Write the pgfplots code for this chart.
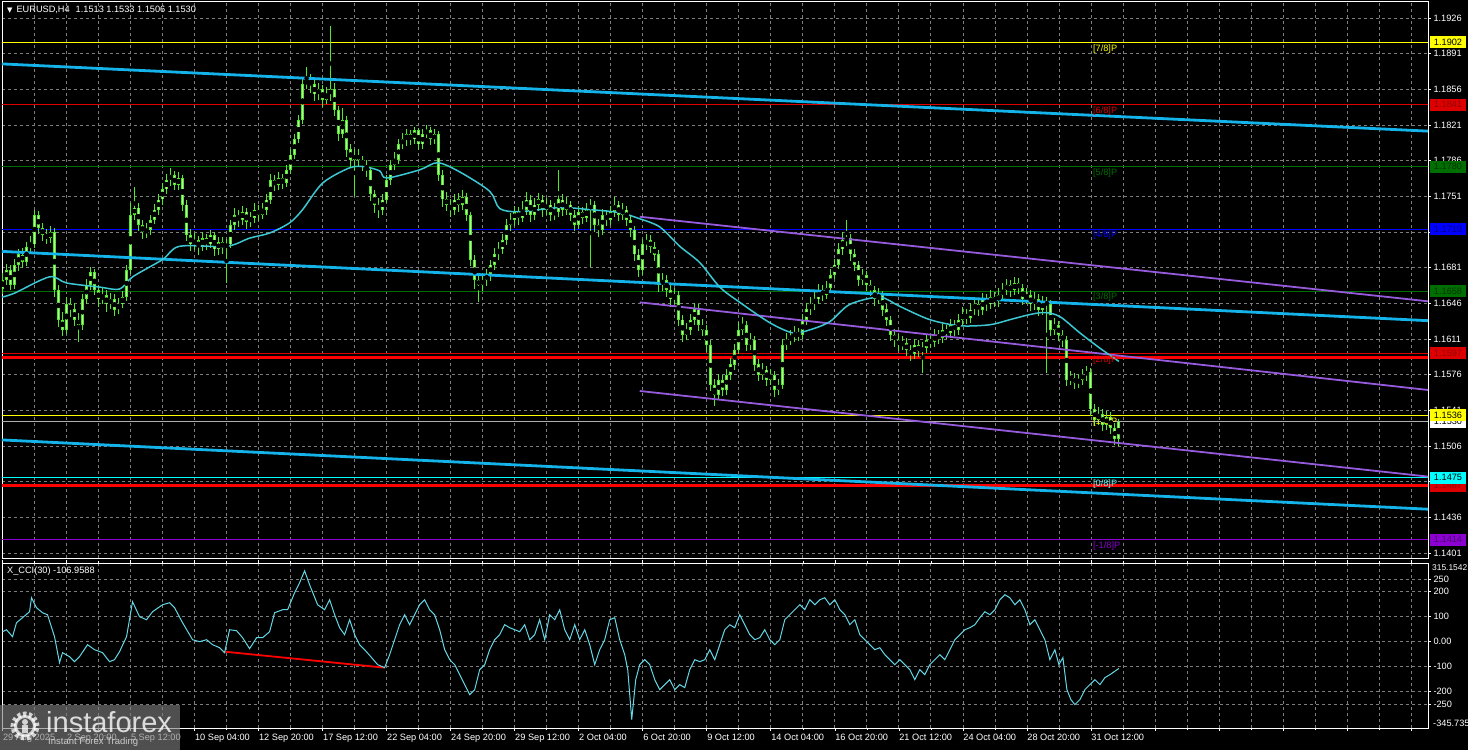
\documentclass[border=0pt]{standalone}
\usepackage{pgfplots}
\pgfplotsset{compat=1.18}
\usepackage{pgfplotstable}
\usepackage{fontspec}
\setmainfont{Liberation Sans}
\newfontfamily\djv{DejaVu Sans}
\definecolor{cgrid}{RGB}{125,125,125}
\definecolor{candle}{RGB}{80,235,40}
\definecolor{candlein}{RGB}{185,250,160}
\definecolor{tcyan}{RGB}{20,180,235}
\definecolor{tpurple}{RGB}{150,90,220}
\definecolor{cma}{RGB}{60,200,210}
\definecolor{ccci}{RGB}{100,215,230}
\definecolor{mmyellow}{RGB}{255,255,0}
\definecolor{mmred}{RGB}{220,0,0}
\definecolor{mmgreen}{RGB}{0,110,0}
\definecolor{mmblue}{RGB}{0,0,255}
\definecolor{mmcyan}{RGB}{0,255,255}
\definecolor{mmpurple}{RGB}{140,0,210}
\definecolor{tred}{RGB}{150,0,0}
\definecolor{tgreen}{RGB}{0,55,0}
\definecolor{tblue}{RGB}{0,0,130}
\definecolor{tpurp}{RGB}{70,0,110}
\definecolor{curprice}{RGB}{175,175,175}

\pgfplotstableread{
i o h l c
0 1.1660 1.1676 1.1655 1.1669
1 1.1669 1.1685 1.1664 1.1679
2 1.1679 1.1684 1.1659 1.1664
3 1.1664 1.1690 1.1660 1.1684
4 1.1684 1.1699 1.1678 1.1694
5 1.1694 1.1700 1.1681 1.1687
6 1.1687 1.1706 1.1683 1.1701
7 1.1701 1.1712 1.1696 1.1704
8 1.1704 1.1738 1.1700 1.1733
9 1.1733 1.1737 1.1714 1.1720
10 1.1720 1.1725 1.1707 1.1713
11 1.1713 1.1719 1.1704 1.1710
12 1.1710 1.1722 1.1705 1.1716
13 1.1716 1.1720 1.1652 1.1659
14 1.1659 1.1664 1.1623 1.1630
15 1.1630 1.1638 1.1614 1.1620
16 1.1620 1.1652 1.1616 1.1645
17 1.1645 1.1651 1.1633 1.1640
18 1.1640 1.1646 1.1624 1.1630
19 1.1630 1.1637 1.1608 1.1625
20 1.1625 1.1655 1.1620 1.1650
21 1.1650 1.1670 1.1645 1.1664
22 1.1664 1.1682 1.1659 1.1677
23 1.1677 1.1680 1.1654 1.1659
24 1.1659 1.1664 1.1643 1.1650
25 1.1650 1.1661 1.1645 1.1654
26 1.1654 1.1659 1.1638 1.1645
27 1.1645 1.1656 1.1640 1.1650
28 1.1650 1.1655 1.1634 1.1640
29 1.1640 1.1651 1.1636 1.1645
30 1.1645 1.1658 1.1641 1.1652
31 1.1652 1.1684 1.1648 1.1679
32 1.1679 1.1745 1.1675 1.1733
33 1.1733 1.1760 1.1728 1.1740
34 1.1740 1.1744 1.1717 1.1723
35 1.1723 1.1728 1.1709 1.1716
36 1.1716 1.1725 1.1710 1.1718
37 1.1718 1.1733 1.1713 1.1728
38 1.1728 1.1744 1.1724 1.1738
39 1.1738 1.1753 1.1733 1.1748
40 1.1748 1.1764 1.1743 1.1758
41 1.1758 1.1773 1.1753 1.1767
42 1.1767 1.1779 1.1761 1.1772
43 1.1772 1.1776 1.1757 1.1762
44 1.1762 1.1775 1.1757 1.1769
45 1.1769 1.1772 1.1737 1.1743
46 1.1743 1.1747 1.1707 1.1713
47 1.1713 1.1719 1.1697 1.1704
48 1.1704 1.1715 1.1698 1.1708
49 1.1708 1.1712 1.1694 1.1701
50 1.1701 1.1716 1.1697 1.1710
51 1.1710 1.1714 1.1698 1.1704
52 1.1704 1.1718 1.1700 1.1713
53 1.1713 1.1716 1.1693 1.1699
54 1.1699 1.1711 1.1694 1.1706
55 1.1706 1.1711 1.1695 1.1701
56 1.1701 1.1709 1.1666 1.1704
57 1.1704 1.1728 1.1700 1.1723
58 1.1723 1.1740 1.1718 1.1733
59 1.1733 1.1738 1.1721 1.1728
60 1.1728 1.1742 1.1723 1.1736
61 1.1736 1.1740 1.1719 1.1726
62 1.1726 1.1736 1.1721 1.1730
63 1.1730 1.1744 1.1725 1.1738
64 1.1738 1.1743 1.1727 1.1733
65 1.1733 1.1745 1.1729 1.1738
66 1.1738 1.1753 1.1733 1.1748
67 1.1748 1.1773 1.1744 1.1767
68 1.1767 1.1772 1.1756 1.1762
69 1.1762 1.1775 1.1757 1.1769
70 1.1769 1.1773 1.1758 1.1764
71 1.1764 1.1782 1.1760 1.1777
72 1.1777 1.1797 1.1773 1.1792
73 1.1792 1.1812 1.1788 1.1807
74 1.1807 1.1831 1.1803 1.1826
75 1.1826 1.1868 1.1822 1.1861
76 1.1861 1.1878 1.1856 1.1865
77 1.1865 1.1871 1.1853 1.1861
78 1.1861 1.1866 1.1845 1.1851
79 1.1851 1.1862 1.1846 1.1856
80 1.1856 1.1860 1.1839 1.1846
81 1.1846 1.1858 1.1842 1.1851
82 1.1851 1.1918 1.1845 1.1856
83 1.1856 1.1862 1.1830 1.1836
84 1.1836 1.1840 1.1805 1.1812
85 1.1812 1.1838 1.1808 1.1826
86 1.1826 1.1830 1.1790 1.1797
87 1.1797 1.1802 1.1780 1.1787
88 1.1787 1.1797 1.1751 1.1792
89 1.1792 1.1798 1.1781 1.1787
90 1.1787 1.1791 1.1776 1.1782
91 1.1782 1.1787 1.1770 1.1777
92 1.1777 1.1780 1.1746 1.1753
93 1.1753 1.1757 1.1735 1.1743
94 1.1743 1.1749 1.1730 1.1738
95 1.1738 1.1753 1.1733 1.1748
96 1.1748 1.1772 1.1744 1.1767
97 1.1767 1.1787 1.1762 1.1782
98 1.1782 1.1795 1.1777 1.1787
99 1.1787 1.1807 1.1783 1.1802
100 1.1802 1.1813 1.1797 1.1807
101 1.1807 1.1817 1.1800 1.1812
102 1.1812 1.1816 1.1801 1.1807
103 1.1807 1.1819 1.1802 1.1816
104 1.1816 1.1818 1.1796 1.1802
105 1.1802 1.1817 1.1797 1.1812
106 1.1812 1.1821 1.1808 1.1816
107 1.1816 1.1819 1.1801 1.1807
108 1.1807 1.1817 1.1802 1.1812
109 1.1812 1.1815 1.1766 1.1772
110 1.1772 1.1777 1.1741 1.1748
111 1.1748 1.1755 1.1737 1.1743
112 1.1743 1.1748 1.1731 1.1738
113 1.1738 1.1753 1.1733 1.1748
114 1.1748 1.1754 1.1736 1.1743
115 1.1743 1.1757 1.1738 1.1750
116 1.1750 1.1754 1.1727 1.1733
117 1.1733 1.1736 1.1683 1.1689
118 1.1689 1.1693 1.1660 1.1669
119 1.1669 1.1675 1.1647 1.1664
120 1.1664 1.1676 1.1658 1.1669
121 1.1669 1.1680 1.1663 1.1674
122 1.1674 1.1689 1.1668 1.1684
123 1.1684 1.1700 1.1679 1.1694
124 1.1694 1.1706 1.1689 1.1699
125 1.1699 1.1714 1.1694 1.1708
126 1.1708 1.1729 1.1703 1.1723
127 1.1723 1.1735 1.1717 1.1728
128 1.1728 1.1742 1.1722 1.1736
129 1.1736 1.1741 1.1723 1.1730
130 1.1730 1.1746 1.1726 1.1738
131 1.1738 1.1755 1.1733 1.1748
132 1.1748 1.1752 1.1726 1.1733
133 1.1733 1.1749 1.1728 1.1743
134 1.1743 1.1754 1.1737 1.1748
135 1.1748 1.1752 1.1731 1.1738
136 1.1738 1.1749 1.1733 1.1743
137 1.1743 1.1748 1.1727 1.1733
138 1.1733 1.1744 1.1728 1.1736
139 1.1736 1.1777 1.1731 1.1748
140 1.1748 1.1753 1.1732 1.1738
141 1.1738 1.1750 1.1733 1.1743
142 1.1743 1.1747 1.1727 1.1733
143 1.1733 1.1738 1.1717 1.1723
144 1.1723 1.1742 1.1719 1.1736
145 1.1736 1.1741 1.1724 1.1730
146 1.1730 1.1744 1.1726 1.1738
147 1.1738 1.1748 1.1682 1.1743
148 1.1743 1.1747 1.1716 1.1723
149 1.1723 1.1729 1.1711 1.1718
150 1.1718 1.1739 1.1713 1.1733
151 1.1733 1.1738 1.1722 1.1728
152 1.1728 1.1742 1.1723 1.1736
153 1.1736 1.1750 1.1731 1.1743
154 1.1743 1.1747 1.1727 1.1733
155 1.1733 1.1744 1.1728 1.1738
156 1.1738 1.1742 1.1722 1.1728
157 1.1728 1.1733 1.1711 1.1718
158 1.1718 1.1722 1.1688 1.1694
159 1.1694 1.1699 1.1672 1.1679
160 1.1679 1.1709 1.1674 1.1704
161 1.1704 1.1714 1.1698 1.1708
162 1.1708 1.1713 1.1695 1.1701
163 1.1701 1.1706 1.1688 1.1694
164 1.1694 1.1698 1.1657 1.1664
165 1.1664 1.1676 1.1658 1.1669
166 1.1669 1.1674 1.1652 1.1659
167 1.1659 1.1664 1.1643 1.1650
168 1.1650 1.1661 1.1645 1.1654
169 1.1654 1.1658 1.1624 1.1630
170 1.1630 1.1635 1.1608 1.1615
171 1.1615 1.1627 1.1610 1.1620
172 1.1620 1.1636 1.1615 1.1630
173 1.1630 1.1646 1.1625 1.1640
174 1.1640 1.1645 1.1619 1.1625
175 1.1625 1.1631 1.1614 1.1620
176 1.1620 1.1625 1.1598 1.1605
177 1.1605 1.1610 1.1560 1.1566
178 1.1566 1.1572 1.1545 1.1556
179 1.1556 1.1577 1.1551 1.1571
180 1.1571 1.1576 1.1555 1.1561
181 1.1561 1.1582 1.1556 1.1576
182 1.1576 1.1592 1.1571 1.1586
183 1.1586 1.1606 1.1581 1.1600
184 1.1600 1.1628 1.1596 1.1620
185 1.1620 1.1633 1.1615 1.1625
186 1.1625 1.1629 1.1599 1.1605
187 1.1605 1.1617 1.1600 1.1610
188 1.1610 1.1614 1.1580 1.1586
189 1.1586 1.1591 1.1570 1.1576
190 1.1576 1.1587 1.1571 1.1581
191 1.1581 1.1585 1.1565 1.1571
192 1.1571 1.1582 1.1566 1.1576
193 1.1576 1.1580 1.1554 1.1561
194 1.1561 1.1572 1.1556 1.1566
195 1.1566 1.1611 1.1562 1.1605
196 1.1605 1.1617 1.1600 1.1610
197 1.1610 1.1620 1.1605 1.1613
198 1.1613 1.1624 1.1608 1.1617
199 1.1617 1.1622 1.1609 1.1615
200 1.1615 1.1636 1.1611 1.1630
201 1.1630 1.1646 1.1625 1.1640
202 1.1640 1.1652 1.1635 1.1645
203 1.1645 1.1657 1.1640 1.1650
204 1.1650 1.1665 1.1645 1.1659
205 1.1659 1.1664 1.1648 1.1654
206 1.1654 1.1668 1.1650 1.1661
207 1.1661 1.1680 1.1657 1.1674
208 1.1674 1.1690 1.1670 1.1684
209 1.1684 1.1705 1.1680 1.1699
210 1.1699 1.1716 1.1694 1.1708
211 1.1708 1.1728 1.1702 1.1710
212 1.1710 1.1714 1.1688 1.1694
213 1.1694 1.1699 1.1678 1.1684
214 1.1684 1.1688 1.1663 1.1669
215 1.1669 1.1680 1.1664 1.1674
216 1.1674 1.1678 1.1658 1.1664
217 1.1664 1.1669 1.1653 1.1659
218 1.1659 1.1663 1.1643 1.1650
219 1.1650 1.1661 1.1645 1.1654
220 1.1654 1.1658 1.1634 1.1640
221 1.1640 1.1645 1.1624 1.1630
222 1.1630 1.1634 1.1609 1.1615
223 1.1615 1.1621 1.1603 1.1610
224 1.1610 1.1616 1.1599 1.1605
225 1.1605 1.1614 1.1600 1.1607
226 1.1607 1.1612 1.1594 1.1600
227 1.1600 1.1605 1.1589 1.1596
228 1.1596 1.1611 1.1591 1.1605
229 1.1605 1.1610 1.1593 1.1599
230 1.1599 1.1608 1.1578 1.1602
231 1.1602 1.1616 1.1597 1.1610
232 1.1610 1.1615 1.1602 1.1608
233 1.1608 1.1621 1.1603 1.1615
234 1.1615 1.1620 1.1606 1.1612
235 1.1612 1.1626 1.1607 1.1620
236 1.1620 1.1625 1.1611 1.1617
237 1.1617 1.1631 1.1612 1.1625
238 1.1625 1.1630 1.1614 1.1620
239 1.1620 1.1636 1.1615 1.1630
240 1.1630 1.1642 1.1625 1.1635
241 1.1635 1.1640 1.1626 1.1632
242 1.1632 1.1646 1.1627 1.1640
243 1.1640 1.1652 1.1635 1.1645
244 1.1645 1.1650 1.1634 1.1640
245 1.1640 1.1656 1.1635 1.1650
246 1.1650 1.1655 1.1639 1.1645
247 1.1645 1.1659 1.1640 1.1652
248 1.1652 1.1657 1.1642 1.1648
249 1.1648 1.1661 1.1643 1.1654
250 1.1654 1.1666 1.1649 1.1659
251 1.1659 1.1670 1.1654 1.1664
252 1.1664 1.1669 1.1652 1.1659
253 1.1659 1.1672 1.1654 1.1666
254 1.1666 1.1671 1.1655 1.1661
255 1.1661 1.1665 1.1644 1.1650
256 1.1650 1.1661 1.1645 1.1654
257 1.1654 1.1659 1.1639 1.1645
258 1.1645 1.1657 1.1640 1.1650
259 1.1650 1.1655 1.1634 1.1640
260 1.1640 1.1653 1.1635 1.1647
261 1.1647 1.1652 1.1578 1.1645
262 1.1645 1.1649 1.1614 1.1620
263 1.1620 1.1632 1.1615 1.1625
264 1.1625 1.1629 1.1609 1.1615
265 1.1615 1.1620 1.1603 1.1610
266 1.1610 1.1614 1.1565 1.1571
267 1.1571 1.1580 1.1566 1.1573
268 1.1573 1.1578 1.1562 1.1568
269 1.1568 1.1577 1.1563 1.1571
270 1.1571 1.1582 1.1566 1.1576
271 1.1576 1.1585 1.1570 1.1579
272 1.1579 1.1583 1.1536 1.1542
273 1.1542 1.1547 1.1526 1.1532
274 1.1532 1.1544 1.1527 1.1537
275 1.1537 1.1542 1.1521 1.1527
276 1.1527 1.1540 1.1522 1.1534
277 1.1534 1.1539 1.1518 1.1524
278 1.1524 1.1529 1.1507 1.1513
279 1.1513 1.1533 1.1506 1.1530
}\candles

\pgfplotsset{
  mtbase/.style={
    scale only axis, width=1426pt,
    xmin=-0.125, xmax=356.25,
    axis line style={white, line width=0.8pt},
    tick style={white, line width=0.6pt},
    tick align=outside, major tick length=3pt, minor tick length=2pt,
    ytick pos=right, yticklabel pos=right,
    every tick label/.append style={font=\fontsize{9.2}{10}\selectfont, text=white},
    y tick label style={anchor=west, xshift=-1pt},
    major grid style={cgrid, dash pattern=on 3pt off 3pt, line width=0.7pt},
    minor grid style={cgrid, dash pattern=on 3pt off 3pt, line width=0.7pt},
  },
}
\tikzset{
  lvl/.style={anchor=west, xshift=1.8pt, minimum width=36pt, minimum height=12pt, inner sep=0pt, font=\fontsize{9.2}{10}\selectfont},
  mm/.style={anchor=north west, inner sep=0pt, yshift=-2pt, font=\fontsize{9.2}{10}\selectfont},
}

\begin{document}
\begin{tikzpicture}
\useasboundingbox (0pt,0pt) rectangle (1468pt,-750pt);
\fill[black] (0pt,0pt) rectangle (1468pt,-750pt);

% ---------------- main price panel ----------------
\begin{axis}[mtbase, at={(2pt,-1pt)}, anchor=north west, height=557pt,
  ymin=1.13961, ymax=1.19427,
  xtick={0,8,...,352}, xticklabels={}, x tick style={draw=none},
  ytick={1.1401,1.1436,1.1471,1.1506,1.1541,1.1576,1.1611,1.1646,1.1681,1.1716,1.1751,1.1786,1.1821,1.1856,1.1891,1.1926},
  yticklabels={1.1401,1.1436,,1.1506,1.1541,1.1576,1.1611,1.1646,1.1681,,1.1751,1.1786,1.1821,1.1856,1.1891,1.1926},
  grid=major]

% Murrey levels
\addplot[mmyellow, line width=0.9pt] coordinates {(-1,1.1902) (360,1.1902)};
\addplot[mmred, line width=0.9pt] coordinates {(-1,1.1841) (360,1.1841)};
\addplot[mmgreen, line width=0.9pt] coordinates {(-1,1.1780) (360,1.1780)};
\addplot[mmblue, line width=0.9pt] coordinates {(-1,1.1719) (360,1.1719)};
\addplot[mmgreen, line width=0.9pt] coordinates {(-1,1.1658) (360,1.1658)};
\addplot[mmred, line width=0.9pt] coordinates {(-1,1.1597) (360,1.1597)};
\addplot[mmyellow, line width=0.9pt] coordinates {(-1,1.1536) (360,1.1536)};
\addplot[curprice, line width=0.8pt] coordinates {(-1,1.1530) (360,1.1530)};
\addplot[mmcyan, line width=0.9pt] coordinates {(-1,1.1475) (360,1.1475)};
\addplot[mmpurple, line width=0.9pt] coordinates {(-1,1.1414) (360,1.1414)};
\addplot[red, line width=3pt] coordinates {(-1,1.1593) (360,1.1593)};
\addplot[red, line width=3pt] coordinates {(-1,1.1467) (360,1.1467)};

% candles: wicks
\addplot[only marks, mark=none, error bars/.cd, y dir=both, y explicit,
  error mark=none, error bar style={draw=candle, line width=1pt}]
  table[x=i, y expr=(\thisrow{h}+\thisrow{l})/2, y error expr=(\thisrow{h}-\thisrow{l})/2]{\candles};
% candles: bodies (outline)
\addplot[only marks, mark=none, error bars/.cd, y dir=both, y explicit,
  error mark=none, error bar style={draw=candle, line width=3pt}]
  table[x=i, y expr=(\thisrow{o}+\thisrow{c})/2, y error expr=abs(\thisrow{o}-\thisrow{c})/2]{\candles};
% candles: bodies (pale interior)
\addplot[only marks, mark=none, error bars/.cd, y dir=both, y explicit,
  error mark=none, error bar style={draw=candlein, line width=1pt}]
  table[x=i, y expr=(\thisrow{o}+\thisrow{c})/2, y error expr=abs(\thisrow{o}-\thisrow{c})/2-0.00008]{\candles};

% regression channel (cyan)
\addplot[tcyan, line width=2.8pt] coordinates {(-0.25,1.1881) (356.25,1.1815)};
\addplot[tcyan, line width=2.8pt] coordinates {(-0.25,1.1697) (356.25,1.1629)};
\addplot[tcyan, line width=2.8pt] coordinates {(-0.25,1.1512) (356.25,1.1444)};
% purple channel
\addplot[tpurple, line width=1.8pt] coordinates {(159.25,1.1731) (356.25,1.1648)};
\addplot[tpurple, line width=1.8pt] coordinates {(159.25,1.1647) (356.25,1.1561)};
\addplot[tpurple, line width=1.8pt] coordinates {(159.25,1.1560) (356.25,1.1476)};

% moving average
\addplot[cma, line width=1.5pt, smooth] coordinates {
(-0.25,1.1652) (3,1.1656) (11.75,1.1672) (16,1.1666) (24.25,1.1662) (29.25,1.1660)
(32.5,1.1672) (40,1.1689) (44.25,1.1702) (56,1.1702) (61.75,1.1710) (66.75,1.1715)
(71.75,1.1725) (75,1.1738) (80,1.1764) (86.75,1.1779) (90.5,1.1780) (94.25,1.1776)
(96,1.1769) (104.25,1.1777) (108.75,1.1784) (114.25,1.1775) (121.75,1.1756) (124.25,1.1739)
(129.25,1.1736) (139.25,1.1740) (146.75,1.1738) (154.25,1.1735) (159.25,1.1729) (164.25,1.1721)
(169.25,1.1702) (174.25,1.1686) (179.25,1.1662) (184.25,1.1647) (191.75,1.1627) (197.5,1.1617)
(201.75,1.1620) (206.75,1.1628) (211.75,1.1645) (219.25,1.1652) (224.25,1.1643) (231.75,1.1630)
(239.25,1.1624) (246.75,1.1625) (251.75,1.1630) (256.75,1.1635) (260.5,1.1637) (264.25,1.1633)
(269.25,1.1617) (274.25,1.1602) (279,1.1589)};

% Murrey text labels
\node[mm, text=mmyellow] at (axis cs:272.5,1.1902) {[7/8]P};
\node[mm, text=mmred] at (axis cs:272.5,1.1841) {[6/8]P};
\node[mm, text=mmgreen] at (axis cs:272.5,1.1780) {[5/8]P};
\node[mm, text=mmblue] at (axis cs:272.5,1.1719) {[4/8]P};
\node[mm, text=mmgreen] at (axis cs:272.5,1.1658) {[3/8]P};
\node[mm, text=mmred] at (axis cs:272.5,1.1597) {[2/8]P};
\node[mm, text=mmyellow] at (axis cs:272.5,1.1536) {[1/8]P};
\node[mm, text=mmcyan!60!white] at (axis cs:272.5,1.1475) {[0/8]P};
\node[mm, text=mmpurple] at (axis cs:272.5,1.1414) {[-1/8]P};

\coordinate (R1902) at (axis cs:356.25,1.1902);
\coordinate (R1841) at (axis cs:356.25,1.1841);
\coordinate (R1780) at (axis cs:356.25,1.1780);
\coordinate (R1719) at (axis cs:356.25,1.1719);
\coordinate (R1658) at (axis cs:356.25,1.1658);
\coordinate (R1597) at (axis cs:356.25,1.1597);
\coordinate (R1536) at (axis cs:356.25,1.1536);
\coordinate (R1530) at (axis cs:356.25,1.1530);
\coordinate (R1475) at (axis cs:356.25,1.1475);
\coordinate (R1467) at (axis cs:356.25,1.1467);
\coordinate (R1414) at (axis cs:356.25,1.1414);
\end{axis}

% right-hand price boxes
\node[lvl, fill=mmyellow, text=black] at (R1902) {1.1902};
\node[lvl, fill=mmred, text=tred] at (R1841) {1.1841};
\node[lvl, fill=mmgreen, text=tgreen] at (R1780) {1.1780};
\node[lvl, fill=mmblue, text=tblue] at (R1719) {1.1719};
\node[lvl, fill=mmgreen, text=tgreen] at (R1658) {1.1658};
\node[lvl, fill=mmred, text=tred] at (R1597) {1.1597};
\node[lvl, fill=white, text=black] at (R1530) {1.1530};
\node[lvl, fill=mmyellow, text=black] at (R1536) {1.1536};
\node[lvl, fill=mmred, text=tred] at (R1467) {1.1467};
\node[lvl, fill=mmcyan, text=black] at (R1475) {1.1475};
\node[lvl, fill=mmpurple, text=tpurp] at (R1414) {1.1414};

% ---------------- CCI panel ----------------
\begin{axis}[mtbase, at={(2pt,-563pt)}, anchor=north west, height=165pt,
  ymin=-345.735, ymax=315.1542,
  xtick={0,16,...,352}, minor xtick={8,24,...,344},
  xticklabels={29 Aug 2025,2 Sep 20:00,5 Sep 12:00,10 Sep 04:00,12 Sep 20:00,17 Sep 12:00,22 Sep 04:00,24 Sep 20:00,29 Sep 12:00,2 Oct 04:00,6 Oct 20:00,9 Oct 12:00,14 Oct 04:00,16 Oct 20:00,21 Oct 12:00,24 Oct 04:00,28 Oct 20:00,31 Oct 12:00,,,,,},
  x tick label style={anchor=north west, xshift=-3pt},
  ytick={-250,-200,-100,0,100,200,250},
  yticklabels={-250,-200,-100,0.00,100,200,250},
  grid=both]
\addplot[red, line width=1.8pt] coordinates {(55.5,-40) (95.5,-104)};
\addplot[ccci, line width=1pt] coordinates {
(0,40) (1,48) (2.5,20) (3.5,76) (5,96) (6.75,120) (7.25,176) (8.5,136) (10,116) (11.25,108)
(13,20) (14.25,-84) (15,-44) (16.75,-60) (18,-80) (19.25,-60) (21.25,-12) (23,-32) (25,-44)
(26.75,-80) (28,-72) (29.25,-40) (31,20) (32.5,160) (34.25,100) (36,88) (37.5,120) (40,148)
(41.75,156) (43,136) (45,76) (47.5,8) (49.25,0) (51,8) (52.5,-12) (54.25,-24) (55.5,-44)
(56.75,48) (58.5,44) (60,16) (61.75,-28) (63.5,16) (65,16) (66.75,40) (68,116) (70,128)
(71.25,128) (73,196) (74.25,236) (75.5,284) (76.75,228) (78.75,148) (80.5,128) (81.75,168)
(83,108) (84.25,56) (85.5,28) (86.75,88) (88,28) (89.25,-12) (90.5,-32) (92.25,-64) (93.75,-92)
(95.5,-104) (96.75,-52) (98,8) (99.25,68) (100.5,108) (101.75,68) (103,108) (104.25,148)
(105.5,168) (106.75,128) (108,108) (109.25,48) (110.5,-32) (111.75,-72) (113,-92) (114.25,-132)
(115.5,-172) (116.75,-212) (118,-192) (119.25,-112) (120.5,-92) (121.75,-32) (123,8) (124.25,28)
(125.5,68) (126.75,56) (128,48) (129.25,40) (130.5,68) (131.75,8) (133,28) (134.25,88) (135.5,8)
(136.75,108) (138,88) (139.25,128) (140.5,48) (141.75,8) (143,68) (144.25,8) (145.5,48)
(146.75,-12) (148,-92) (149.25,-32) (150.5,8) (151.75,88) (153,96) (154.25,8) (155.5,-52)
(156.25,-112) (157.25,-312) (158.25,-152) (159.25,-92) (160.5,-72) (161.75,-92) (163,-152)
(164.25,-192) (165.5,-172) (166.75,-152) (168,-192) (169.25,-172) (170.5,-184) (171.75,-112)
(173,-72) (174.25,-80) (175.5,-72) (176.75,-32) (178,-72) (179.25,-12) (180.5,48) (181.75,68)
(183,56) (184.25,108) (185.5,68) (186.75,28) (188,8) (189.25,16) (190.5,48) (191.75,8) (193,-12)
(194.25,8) (195.5,88) (196.75,108) (198,128) (199.25,148) (200.5,128) (201.75,168) (203,148)
(204.25,168) (205.5,176) (206.75,148) (208,168) (209.25,128) (210.5,108) (211.75,68) (213,88)
(214.25,28) (215.5,8) (216.75,-12) (218,-32) (219.25,-24) (220.5,-52) (221.75,-72) (223,-92)
(224.25,-72) (225.5,-92) (226.75,-112) (228,-152) (229.25,-112) (230.5,-132) (231.75,-92)
(233,-72) (234.25,-52) (235.5,-72) (236.75,-32) (238,8) (239.25,28) (240.5,48) (241.75,56)
(243,68) (244.25,96) (245.5,120) (246.75,108) (248,128) (249.25,168) (250.5,188) (251.75,176)
(253,148) (254.25,168) (255.5,128) (256.75,68) (258,88) (259.25,48) (260.5,8) (261.75,-72)
(263,-32) (264,-92) (265,-64) (266,-192) (267,-232) (268,-252) (269.25,-232) (270.5,-192)
(271.75,-172) (273,-152) (274.25,-172) (275.5,-144) (276.75,-132) (279,-107)};
\end{axis}

% extra CCI scale labels
\node[anchor=west, inner sep=0pt, text=white, font=\fontsize{8.4}{10}\selectfont] at (1432pt,-567.5pt) {315.1542};
\node[anchor=west, inner sep=0pt, text=white, font=\fontsize{9.2}{10}\selectfont] at (1433pt,-723pt) {-345.735};

% headers
\node[anchor=west, inner sep=0pt, text=white, font=\fontsize{9.2}{10}\selectfont] at (7pt,-10pt)
  {{\djv\fontsize{7}{8}\selectfont ▼}\hspace{4pt}EURUSD,H4\hspace{6pt}1.1513 1.1533 1.1506 1.1530};
\node[anchor=west, inner sep=0pt, text=white, font=\fontsize{9.2}{10}\selectfont] at (7pt,-571pt)
  {X\_CCI(30) -106.9588};

% logo
\fill[gray, opacity=0.62] (0pt,-705pt) rectangle (180pt,-750pt);
\begin{scope}[white, opacity=0.75]
  \draw[line width=5pt, dash pattern=on 3.2pt off 2.6pt] (25pt,-726pt) circle (12pt);
  \draw[line width=3pt] (25pt,-726pt) circle (9.5pt);
  \fill (25pt,-722pt) circle (3pt);
  \fill (22pt,-733pt) rectangle (28pt,-725pt);
\end{scope}
\node[anchor=west, inner sep=0pt, text=white, opacity=0.8, font=\fontsize{29}{30}\selectfont] at (46pt,-722pt) {instaforex};
\node[anchor=west, inner sep=0pt, text=white, opacity=0.7, font=\fontsize{9.5}{10}\selectfont] at (48pt,-742pt) {Instant Forex Trading};
\end{tikzpicture}
\end{document}
